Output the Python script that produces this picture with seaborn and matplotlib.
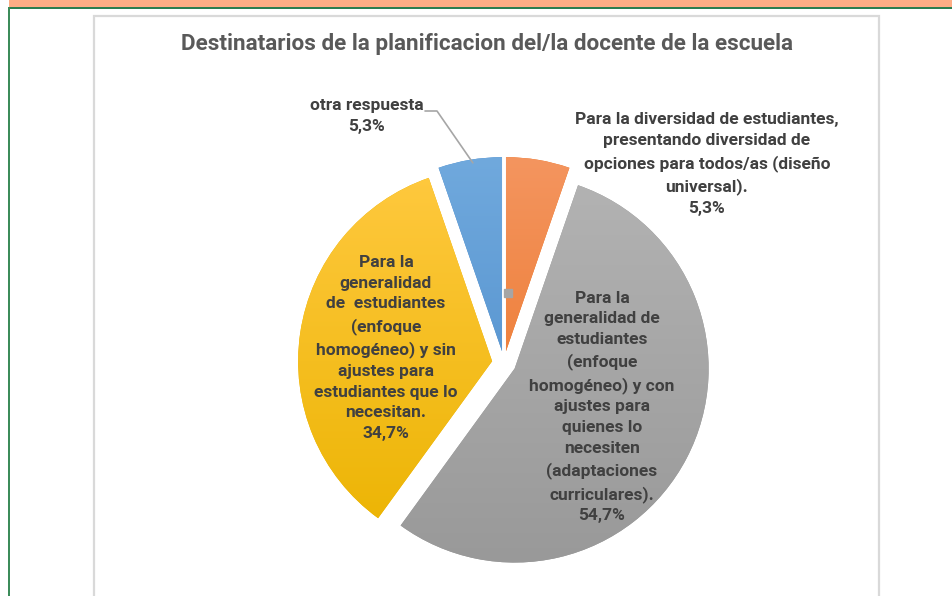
import numpy as np
import matplotlib
matplotlib.use("Agg")
import matplotlib.pyplot as plt
from matplotlib import font_manager
from matplotlib.colors import LinearSegmentedColormap
from matplotlib.patches import Rectangle
import seaborn as sns

# data
categories = [
    "Para la diversidad de estudiantes,\npresentando diversidad de\nopciones para todos/as (diseño\nuniversal).",
    "Para la\ngeneralidad de\nestudiantes\n(enfoque\nhomogéneo) y con\najustes para\nquienes lo\nnecesiten\n(adaptaciones\ncurriculares).",
    "Para la\ngeneralidad\nde  estudiantes\n(enfoque\nhomogéneo) y sin\najustes para\nestudiantes que lo\nnecesitan.",
    "otra respuesta",
]
percent = [5.3, 54.7, 34.7, 5.3]
percent_labels = ["5,3%", "54,7%", "34,7%", "5,3%"]
title = "Destinatarios de la planificacion del/la docente de la escuela"

W, H = 953, 596


def main():
    sns.set_theme(style="white")
    names = {f.name for f in font_manager.fontManager.ttflist}
    narrow = "Liberation Sans Narrow" if "Liberation Sans Narrow" in names else "Roboto"
    plt.rcParams["font.family"] = [narrow, "DejaVu Sans"]

    # office-like palette: orange, gray, gold, blue (top / bottom of gradient)
    tops = ["#F4955F", "#B3B3B3", "#FFC93F", "#70A9DD"]
    bottoms = ["#EA6F1E", "#999999", "#EBB300", "#4888C8"]

    fig = plt.figure(figsize=(W / 100, H / 100), dpi=100)
    ax = fig.add_axes([0, 0, 1, 1])

    # explode is in data units (pixels here)
    wedges, _ = ax.pie(percent, colors=bottoms, startangle=90, counterclock=False,
                       radius=194, center=(504, H - 363), explode=[12] * 4,
                       wedgeprops=dict(linewidth=0))
    ax.set_xlim(0, W)
    ax.set_ylim(0, H)
    ax.set_aspect("equal")
    ax.axis("off")

    # vertical gradient fill clipped to each wedge
    grad = np.linspace(0, 1, 256).reshape(-1, 1)
    for w, c0, c1 in zip(wedges, tops, bottoms):
        cmap = LinearSegmentedColormap.from_list("g", [c1, c0])
        cx, cy = w.center
        r = w.r
        im = ax.imshow(grad, cmap=cmap, origin="lower", aspect="auto",
                       extent=(cx - r, cx + r, cy - r, cy + r), zorder=w.get_zorder())
        im.set_clip_path(w)

    # page decorations: orange band, green rules, chart frame
    fig.patches.append(Rectangle((9, H - 7), W - 9, 7, transform=None,
                                 facecolor="#FFAD85", edgecolor="none", zorder=-5))
    fig.patches.append(Rectangle((9, H - 9), W - 9, 2, transform=None,
                                 facecolor="#2E7D4F", edgecolor="none", zorder=-4))
    fig.patches.append(Rectangle((8, 0), 2, H - 7, transform=None,
                                 facecolor="#3C8C5A", edgecolor="none", zorder=-4))
    ax.add_patch(Rectangle((94, -10), 785, H - 16 + 10, facecolor="none",
                           edgecolor="#D9D9D9", linewidth=1.6, zorder=0))

    ax.text(487, H - 44, title, ha="center", va="center", fontsize=16.2,
            fontweight="bold", color="#595959")

    txt = dict(ha="center", va="center", fontsize=12.5, fontweight="bold",
               color="#404040", linespacing=1.48)
    label_pos = [(707, 164), (602, 407), (386, 348), (367, 116)]
    for cat, pl, (x, y) in zip(categories, percent_labels, label_pos):
        ax.text(x, H - y, cat + "\n" + pl, **txt)

    # leader line for "otra respuesta"
    blue = wedges[3]
    mid = np.deg2rad((blue.theta1 + blue.theta2) / 2)
    ex = blue.center[0] + blue.r * np.cos(mid)
    ey = blue.center[1] + blue.r * np.sin(mid)
    ax.plot([425, 437, ex + 3], [H - 111, H - 111, ey - 3], color="#A6A6A6",
            linewidth=1.2, zorder=6)

    # small key marker inside the orange slice
    orange = wedges[0]
    ang = np.deg2rad(orange.theta2 - 2)
    ax.plot(orange.center[0] + 0.28 * orange.r * np.cos(ang),
            orange.center[1] + 0.28 * orange.r * np.sin(ang) + 4,
            marker="s", markersize=6, color="#A5A5A5", zorder=6)

    fig.savefig("out.png", dpi=100, facecolor="white")


if __name__ == "__main__":
    main()
